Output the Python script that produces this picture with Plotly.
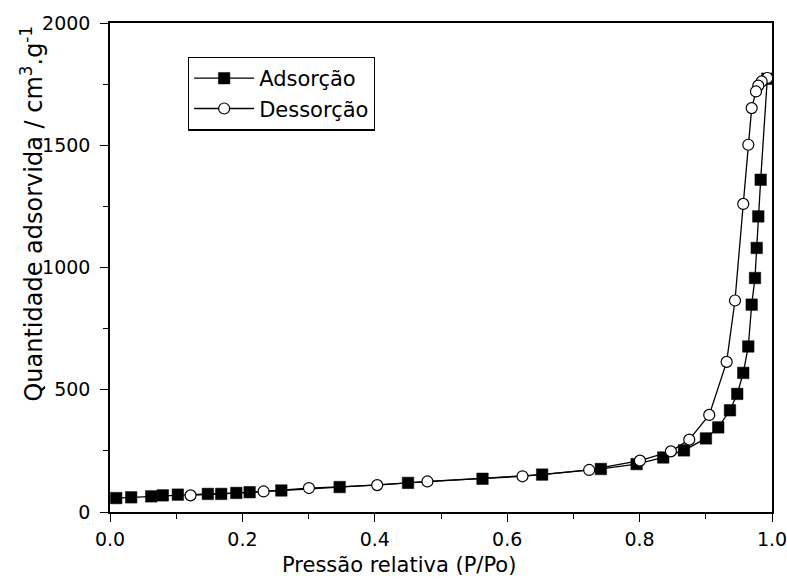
import plotly.graph_objects as go

ads_x = [0.0094, 0.032, 0.0623, 0.0798, 0.1025, 0.1478, 0.168, 0.1908, 0.2109, 0.2588, 0.3469,
         0.4502, 0.5627, 0.6528, 0.7415, 0.7955, 0.8357, 0.8670, 0.9002, 0.9188, 0.9365,
         0.9475, 0.9566, 0.9642, 0.9693, 0.9743, 0.9769, 0.9793, 0.9829, 0.9929]
ads_y = [57, 60, 64, 68, 71, 74, 74, 78, 81, 88, 102,
         119, 136, 153, 176, 196, 223, 252, 301, 346, 416,
         483, 569, 677, 848, 957, 1080, 1209, 1359, 1772]

des_x = [0.9929, 0.9844, 0.9793, 0.9758, 0.9693, 0.9642, 0.9566, 0.9441, 0.9315, 0.9052,
         0.8750, 0.8473, 0.8005, 0.7238, 0.6231, 0.4795, 0.4036, 0.3005, 0.2320, 0.1217]
des_y = [1775, 1761, 1744, 1720, 1652, 1502, 1260, 865, 614, 397,
         296, 248, 210, 172, 146, 125, 110, 98, 84, 68]

x_ticks = [0.0, 0.2, 0.4, 0.6, 0.8, 1.0]
x_labels = ["0.0", "0.2", "0.4", "0.6", "0.8", "1.0"]
y_ticks = [0, 500, 1000, 1500, 2000]
y_labels = ["0", "500", "1000", "1500", "2000"]

x_title = "Pressão relativa (P/Po)"
y_title = "Quantidade adsorvida / cm<sup>3</sup>.g<sup>-1</sup>"

font_family = "DejaVu Sans, sans-serif"

fig = go.Figure()
fig.add_trace(go.Scatter(
    x=ads_x, y=ads_y, mode="lines+markers", name="Adsorção", cliponaxis=False,
    line=dict(color="black", width=1.3),
    marker=dict(symbol="square", size=11.5, color="black", line=dict(color="black", width=0.5)),
))
fig.add_trace(go.Scatter(
    x=des_x, y=des_y, mode="lines+markers", name="Dessorção", cliponaxis=False,
    line=dict(color="black", width=1.3),
    marker=dict(symbol="circle", size=11, color="white", line=dict(color="black", width=1.2)),
))

axis_common = dict(
    showgrid=False, zeroline=False, showline=True, linecolor="black", linewidth=1.5,
    mirror=True, ticks="outside", ticklen=8, tickwidth=1.3, tickcolor="black",
    tickfont=dict(family=font_family, size=19, color="black"),
    ticklabeloverflow="allow", automargin=False,
)

fig.update_layout(
    width=787, height=581,
    margin=dict(l=110, r=15, t=23, b=69),
    paper_bgcolor="white", plot_bgcolor="white",
    font=dict(family=font_family, color="black"),
    showlegend=True,
    legend=dict(
        x=0.1176, y=0.931, xanchor="left", yanchor="top",
        bgcolor="white", bordercolor="black", borderwidth=1.3,
        font=dict(family=font_family, size=21, color="black"),
        itemwidth=60, tracegroupgap=0,
    ),
    xaxis=dict(
        range=[0, 1.0], tickvals=x_ticks, ticktext=x_labels, ticklabelstandoff=1,
        minor=dict(ticks="outside", ticklen=5, tickwidth=1.3, tickcolor="black", dtick=0.1, showgrid=False),
        **axis_common,
    ),
    yaxis=dict(
        range=[0, 2000], tickvals=y_ticks, ticktext=y_labels, ticklabelstandoff=6,
        minor=dict(ticks="outside", ticklen=5, tickwidth=1.3, tickcolor="black", dtick=250, showgrid=False),
        **axis_common,
    ),
    annotations=[
        dict(text=x_title, xref="paper", yref="paper", x=0.2562, y=-0.108,
             xanchor="left", yanchor="middle", showarrow=False,
             font=dict(family=font_family, size=21, color="black")),
        dict(text=y_title, xref="paper", yref="paper", x=-0.118, y=0.61,
             xanchor="center", yanchor="middle", textangle=-90, showarrow=False,
             font=dict(family=font_family, size=24, color="black")),
    ],
)

fig.write_html("out.html")
